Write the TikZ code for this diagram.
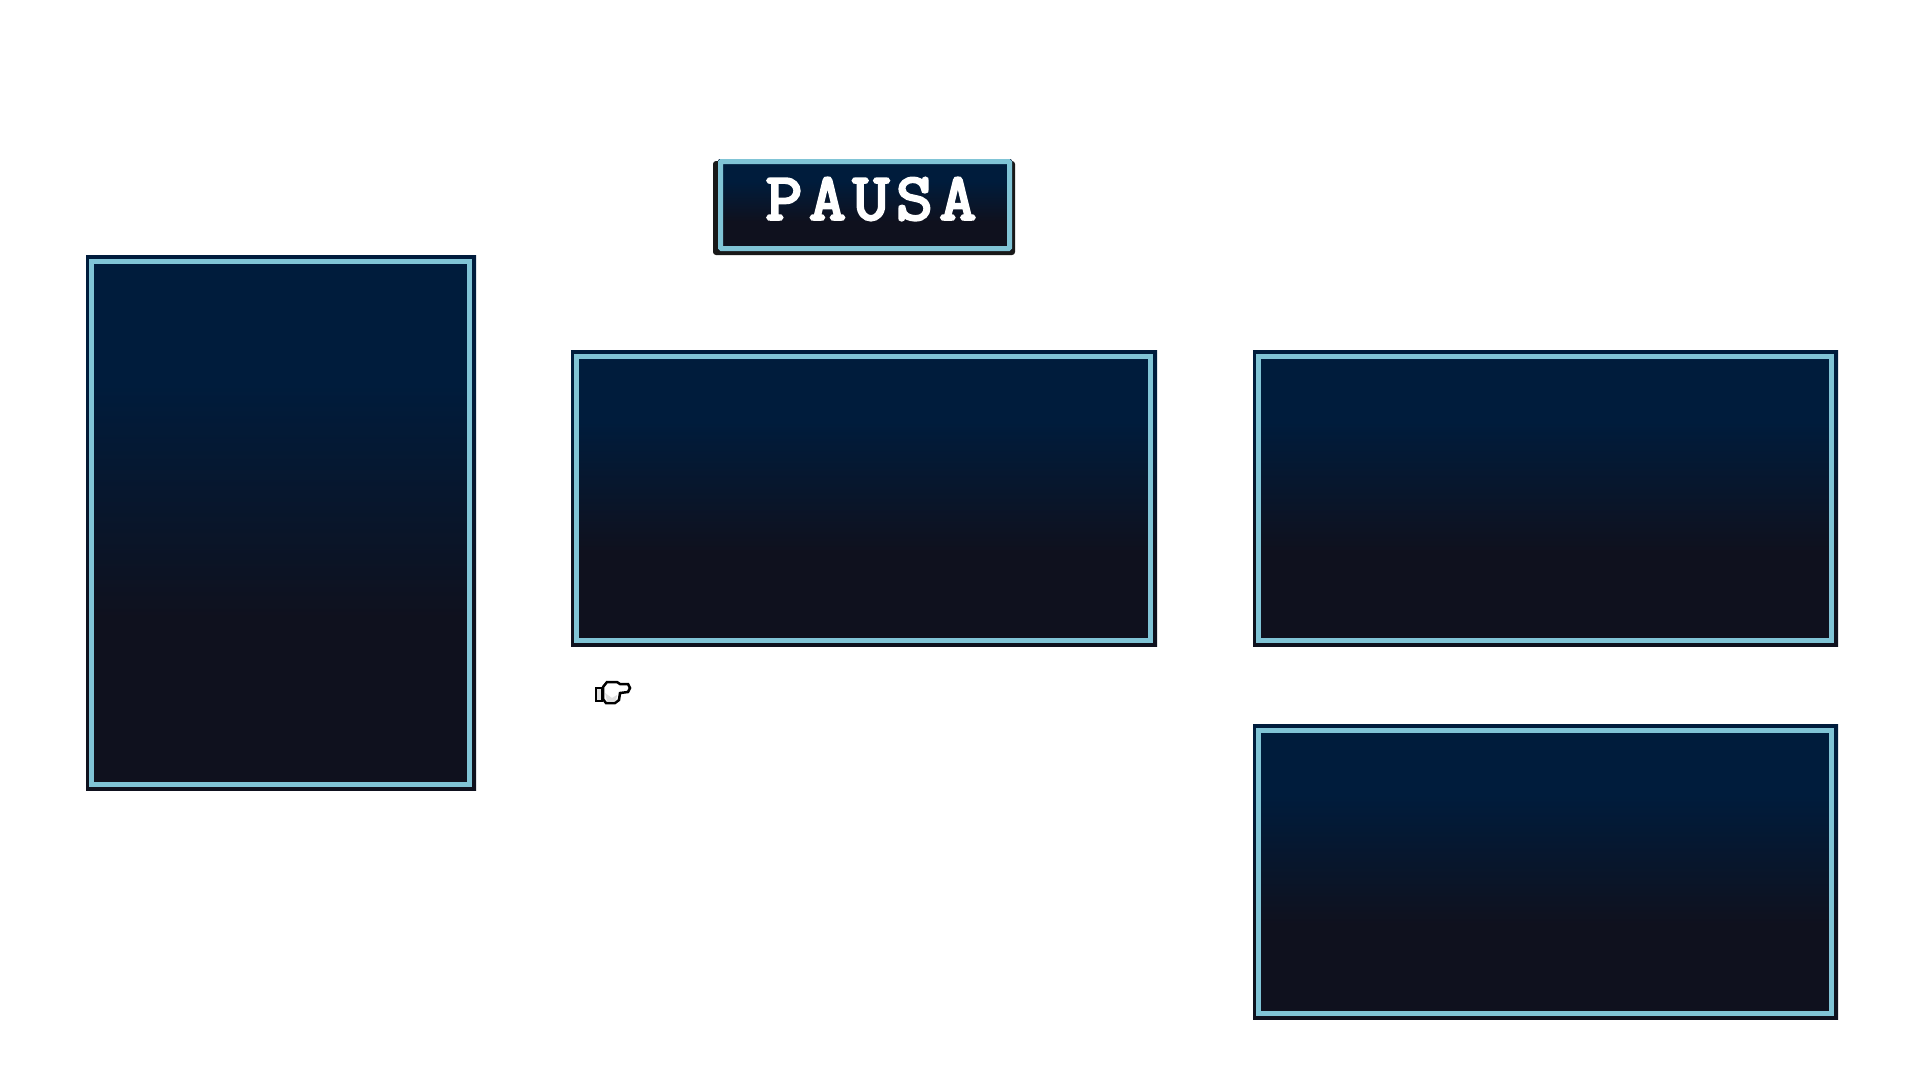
\documentclass[tikz,border=0pt]{standalone}
\usepackage{xcolor}
\usepackage{fontspec}
\newfontfamily\pixelfont[LetterSpace=10,FakeBold=4,FakeStretch=1.07]{Latin Modern Mono}
\definecolor{paneltop}{HTML}{001C3C}
\definecolor{panelbot}{HTML}{0F111E}
\definecolor{panelline}{HTML}{80C4D6}
\pgfdeclareverticalshading{panelshade}{100bp}{color(0bp)=(panelbot); color(41bp)=(panelbot); color(63bp)=(paneltop); color(100bp)=(paneltop)}
\begin{document}
\begin{tikzpicture}[x=0.02cm, y=-0.02cm,
    panelrim/.style={draw=panelline, line width=0.1cm},
    pauselabel/.style={text=white, inner sep=0pt, font=\fontsize{38}{38}\selectfont\pixelfont}]
\useasboundingbox (0,0) rectangle (1920,1080);

% Panels
\foreach \xa/\ya/\xb/\yb in {86/255/476/790, 571/350/1157/646, 1253/350/1838/646, 1253/724/1838/1019} {
  \shade[shading=panelshade] (\xa,\ya) rectangle (\xb,\yb);
  \draw[panelrim] (\xa+5.5,\ya+6.5) rectangle (\xb-6.5,\yb-5.5);
}

% Pause button
\fill[black!90, rounded corners=0.06cm] (713,161) rectangle (1015,255);
\shade[shading=panelshade, rounded corners=0.04cm] (718,159) rectangle (1012,251);
\draw[panelrim, rounded corners=0.02cm] (720.5,161.5) rectangle (1009.5,248.5);
\node[pauselabel] (pausa) at (871,199) {PAUSA};

% Pointer
\draw[black, line width=0.04cm, fill=black!12] (596,688) rectangle (602,701);
\draw[black, line width=0.05cm, fill=white] (603,687) -- (607,682) -- (617,682) -- (620,684) -- (628,684)
  -- (630,688) -- (628,692) -- (620,693) -- (619,700) -- (615,703) -- (606,703) -- (603,699) -- cycle;
\fill[black!12] (605,693) -- (612,698) -- (617,695) -- (616,701) -- (607,701) -- cycle;
\end{tikzpicture}
\end{document}
